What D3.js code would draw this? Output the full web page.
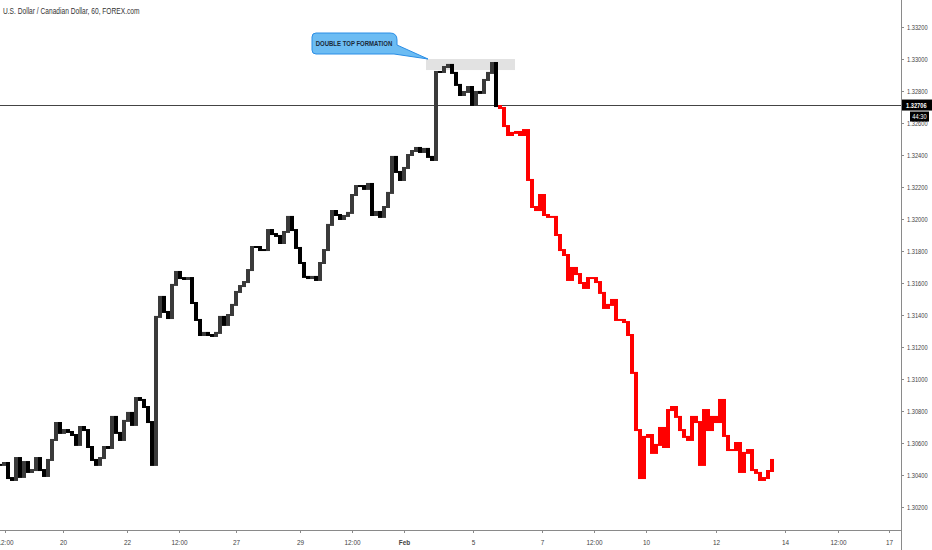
<!DOCTYPE html>
<html>
<head>
<meta charset="utf-8">
<script src="https://cdn.jsdelivr.net/npm/d3@7"></script>
<style>
  html, body { margin: 0; padding: 0; background: #fff; }
  svg text { font-family: "Liberation Sans", Arial, sans-serif; }
</style>
</head>
<body>
<div id="chart"></div>
<script>
// hourly USDCAD closes (sampled), black = history, red = projected path
const histCloses = [
  1.30463, 1.30475, 1.30381, 1.30369, 1.30506, 1.30388, 1.30481, 1.30419, 1.30431, 1.30506,
  1.30431, 1.30394, 1.30494, 1.30619, 1.30725, 1.30663, 1.30681, 1.30669, 1.30650, 1.30588,
  1.30700, 1.30681, 1.30575, 1.30494, 1.30463, 1.30506, 1.30575, 1.30569, 1.30763, 1.30663,
  1.30619, 1.30738, 1.30788, 1.30713, 1.30881, 1.30869, 1.30825, 1.30731, 1.30463, 1.31388,
  1.31513, 1.31419, 1.31381, 1.31588, 1.31669, 1.31631, 1.31625, 1.31631, 1.31475, 1.31369,
  1.31275, 1.31288, 1.31275, 1.31269, 1.31288, 1.31388, 1.31338, 1.31400, 1.31463, 1.31544,
  1.31581, 1.31606, 1.31681, 1.31825, 1.31825, 1.31806, 1.31806, 1.31931, 1.31906, 1.31894,
  1.31850, 1.31919, 1.32013, 1.31931, 1.31819, 1.31725, 1.31638, 1.31631, 1.31638, 1.31619,
  1.31725, 1.31806, 1.31963, 1.32050, 1.32025, 1.32000, 1.32019, 1.32038, 1.32150, 1.32206,
  1.32206, 1.32188, 1.32219, 1.32025, 1.32044, 1.32013, 1.32075, 1.32163, 1.32388, 1.32294,
  1.32244, 1.32319, 1.32400, 1.32425, 1.32444, 1.32419, 1.32438, 1.32388, 1.32369, 1.32919,
  1.32919, 1.32950, 1.32963, 1.32913, 1.32838, 1.32775, 1.32794, 1.32825, 1.32713, 1.32794,
  1.32788, 1.32869, 1.32913, 1.32975, 1.32706
];
const projCloses = [
  1.32694, 1.32581, 1.32525, 1.32538, 1.32544, 1.32525, 1.32556, 1.32244, 1.32075, 1.32056,
  1.32150, 1.32025, 1.32013, 1.32013, 1.31900, 1.31806, 1.31775, 1.31619, 1.31694, 1.31656,
  1.31600, 1.31569, 1.31631, 1.31631, 1.31606, 1.31538, 1.31444, 1.31463, 1.31494, 1.31369,
  1.31369, 1.31356, 1.31275, 1.31038, 1.30681, 1.30381, 1.30638, 1.30650, 1.30538, 1.30588,
  1.30694, 1.30575, 1.30806, 1.30825, 1.30763, 1.30681, 1.30638, 1.30619, 1.30763, 1.30731,
  1.30463, 1.30806, 1.30681, 1.30763, 1.30731, 1.30869, 1.30644, 1.30556, 1.30556, 1.30600,
  1.30419, 1.30538, 1.30556, 1.30431, 1.30413, 1.30369, 1.30381, 1.30425, 1.30494
];
const priceTicks = [1.302, 1.304, 1.306, 1.308, 1.310, 1.312, 1.314, 1.316, 1.318, 1.320,
  1.322, 1.324, 1.326, 1.328, 1.330, 1.332];
const timeTickLabels = ["12:00", "20", "22", "12:00", "27", "29", "12:00", "Feb", "5", "7",
  "12:00", "10", "12", "14", "12:00", "17"];
const timeTickBars = [1.25, 15.75, 31.75, 44.75, 59, 75, 88, 101, 118.25, 135.5, 148.5,
  161.5, 179, 196.25, 209.5, 222.25];
const lastPrice = 1.32706;
const countdown = "44:30";
const title = "U.S. Dollar / Canadian Dollar, 60, FOREX.com";
const note = "DOUBLE TOP FORMATION";
// double top zone: bar range + price range
const zoneBars = [106.5, 128.75];
const zonePrices = [1.32931, 1.33000];

const W = 932, H = 550;
const plotRight = 901, plotBottom = 530;

const svg = d3.select("#chart").append("svg")
  .attr("width", W).attr("height", H);

const x = d3.scaleLinear().domain([0, 225]).range([0, 900]);
const y = d3.scaleLinear().domain([1.302, 1.332]).range([507, 27]);

// narrow text like the tradingview chart (squeeze horizontally)
function label(g, tx, ty, str, size, sx) {
  return g.append("text")
    .attr("transform", `translate(${tx},${ty}) scale(${sx},1)`)
    .attr("font-size", size)
    .text(str);
}

// build bars, open = previous close
const bars = [];
histCloses.forEach((c, i) => {
  const o = i === 0 ? c : histCloses[i - 1];
  bars.push({ i, o, c, proj: false });
});
projCloses.forEach((c, j) => {
  const o = j === 0 ? histCloses[histCloses.length - 1] : projCloses[j - 1];
  bars.push({ i: histCloses.length + j, o, c, proj: true });
});

const plot = svg.append("g");

// double top zone
plot.append("rect")
  .attr("x", x(zoneBars[0]))
  .attr("y", y(zonePrices[1]))
  .attr("width", x(zoneBars[1]) - x(zoneBars[0]))
  .attr("height", y(zonePrices[0]) - y(zonePrices[1]))
  .attr("fill", "#d6d6d6")
  .attr("opacity", 0.7);

// last price line
plot.append("line")
  .attr("x1", 0).attr("x2", plotRight)
  .attr("y1", Math.round(y(lastPrice)) - 0.5).attr("y2", Math.round(y(lastPrice)) - 0.5)
  .attr("stroke", "#444").attr("stroke-width", 1);

// candles, drawn edge to edge so the series reads as a jagged line
const bw = x(1) - x(0);
plot.selectAll("rect.bar").data(bars).enter()
  .append("rect")
  .attr("class", "bar")
  .attr("x", d => x(d.i) - bw / 2)
  .attr("y", d => y(Math.max(d.o, d.c)) - 1)
  .attr("width", bw)
  .attr("height", d => Math.abs(y(d.o) - y(d.c)) + 2)
  .attr("fill", d => d.proj ? "#ff0000" : (d.c > d.o ? "#3a3a3a" : "#000"));

// callout
const callout = svg.append("g");
callout.append("path")
  .attr("d", "M316,33 H390 Q397,33 397,40 V45 L428,59 L394,54 H316 Q312,54 312,50 V37 Q312,33 316,33 Z")
  .attr("fill", "#6cbcf3")
  .attr("stroke", "#2a8ee6")
  .attr("stroke-width", 1);
label(callout, 354, 46, note, 7.5, 0.8)
  .attr("text-anchor", "middle")
  .attr("font-weight", "bold")
  .attr("fill", "#1a2a3a");

// title
label(svg, 3, 14, title, 8.5, 0.78).attr("fill", "#333");

// price axis
const yAxis = svg.append("g");
yAxis.append("line")
  .attr("x1", plotRight + 0.5).attr("x2", plotRight + 0.5)
  .attr("y1", 0).attr("y2", H)
  .attr("stroke", "#8a8a8a");
yAxis.selectAll("g.tick").data(priceTicks).enter()
  .append("g").attr("class", "tick")
  .each(function (v) {
    const g = d3.select(this);
    const yy = Math.round(y(v)) + 0.5;
    g.append("line").attr("x1", plotRight).attr("x2", plotRight + 3)
      .attr("y1", yy).attr("y2", yy).attr("stroke", "#8a8a8a");
    label(g, plotRight + 6, yy + 2.5, v.toFixed(5), 7.5, 0.76).attr("fill", "#444");
  });

// last price label
const ly = y(lastPrice) - 1;
svg.append("rect")
  .attr("x", plotRight + 1).attr("y", ly - 5.5)
  .attr("width", W - plotRight - 1).attr("height", 11)
  .attr("fill", "#000");
label(svg, plotRight + 5, ly + 3, lastPrice.toFixed(5), 7.5, 0.76)
  .attr("font-weight", "bold").attr("fill", "#fff");
svg.append("rect")
  .attr("x", plotRight + 9).attr("y", ly + 6.5)
  .attr("width", 19).attr("height", 10)
  .attr("fill", "#000");
label(svg, plotRight + 18.5, ly + 14, countdown, 7.5, 0.76)
  .attr("text-anchor", "middle").attr("fill", "#fff");

// time axis
const xAxis = svg.append("g");
xAxis.append("line")
  .attr("x1", 0).attr("x2", plotRight)
  .attr("y1", plotBottom + 0.5).attr("y2", plotBottom + 0.5)
  .attr("stroke", "#8a8a8a");
xAxis.selectAll("g.tick").data(timeTickBars).enter()
  .append("g").attr("class", "tick")
  .each(function (b, k) {
    const g = d3.select(this);
    const xx = Math.round(x(b)) + 0.5;
    g.append("line").attr("x1", xx).attr("x2", xx)
      .attr("y1", plotBottom).attr("y2", plotBottom + 3)
      .attr("stroke", "#8a8a8a");
    label(g, xx, plotBottom + 15, timeTickLabels[k], 8, 0.8)
      .attr("text-anchor", "middle")
      .attr("font-weight", timeTickLabels[k] === "Feb" ? "bold" : "normal")
      .attr("fill", "#444");
  });
</script>
</body>
</html>
